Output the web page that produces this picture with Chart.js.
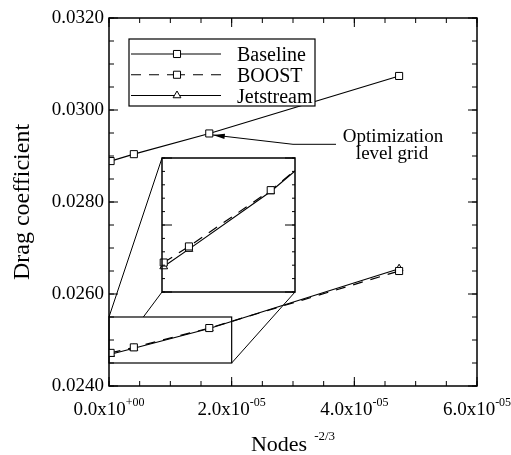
<!DOCTYPE html>
<html>
<head>
<meta charset="utf-8">
<script src="https://cdn.jsdelivr.net/npm/chart.js@4.4.1/dist/chart.umd.min.js"></script>
<style>
  body { margin: 0; background: #fff; }
  #wrap { position: relative; width: 511px; height: 455px; }
  #main { position: absolute; left: 0; top: 0; }
  #inset { position: absolute; }
</style>
</head>
<body>
<div id="wrap">
  <canvas id="main" width="511" height="455"></canvas>
  <canvas id="inset"></canvas>
</div>
<script>
// grid size (Nodes^-2/3) and drag coefficient per grid
const nodes = [2.6e-7, 4.05e-6, 1.635e-5, 4.73e-5];
const baseline = [0.02889, 0.02904, 0.02949, 0.03074];
const boost = [0.02472, 0.02484, 0.02526, 0.02650];
const jetstream = [0.02469, 0.02482, 0.02525, 0.02655];
const seriesNames = ['Baseline', 'BOOST', 'Jetstream'];

const xTicks = [0, 2e-5, 4e-5, 6e-5];
const yTicks = [0.024, 0.026, 0.028, 0.030, 0.032];
const zoomX = [0, 2e-5];
const zoomY = [0.0245, 0.0255];
const noteLines = ['Optimization', 'level grid'];

const SERIF = '"Liberation Serif", "DejaVu Serif", serif';
Chart.defaults.font.family = SERIF;
Chart.defaults.color = '#000';

// inset frame in page pixels
const INSET = { left: 162, top: 158, right: 295, bottom: 292 };
const PAD = 8;

function series(i, values, extra) {
    return Object.assign({
        label: seriesNames[i],
        data: nodes.map((x, k) => ({ x: x, y: values[k] })),
        showLine: true,
        tension: 0,
        borderColor: '#000',
        borderWidth: 1.2,
        pointBackgroundColor: '#fff',
        pointBorderColor: '#000',
        pointBorderWidth: 1,
        pointStyle: 'rect',
        pointRadius: 5
    }, extra);
}

function boostSeries() {
    return series(1, boost, { borderDash: [10, 8] });
}
function jetSeries() {
    return series(2, jetstream, { pointStyle: 'triangle', pointRadius: 4.5 });
}

function line(ctx, x1, y1, x2, y2) {
    ctx.beginPath();
    ctx.moveTo(x1, y1);
    ctx.lineTo(x2, y2);
    ctx.stroke();
}

function stepValues(min, max, step) {
    const out = [];
    const n = Math.round((max - min) / step);
    for (let i = 0; i <= n; i++) out.push(min + i * step);
    return out;
}

// inward tick marks on all four sides
function sideTicksX(ctx, scale, area, values, len) {
    values.forEach(v => {
        const px = scale.getPixelForValue(v);
        line(ctx, px, area.bottom, px, area.bottom - len);
        line(ctx, px, area.top, px, area.top + len);
    });
}
function sideTicksY(ctx, scale, area, values, len) {
    values.forEach(v => {
        const py = scale.getPixelForValue(v);
        line(ctx, area.left, py, area.left + len, py);
        line(ctx, area.right, py, area.right - len, py);
    });
}

function sciParts(v) {
    const exp = v === 0 ? 0 : Math.floor(Math.log10(Math.abs(v)));
    const mant = (v / Math.pow(10, exp)).toFixed(1);
    const e = (exp < 0 ? '-' : '+') + String(Math.abs(exp)).padStart(2, '0');
    return [mant + 'x10', e];
}

const mainDecor = {
    id: 'mainDecor',
    beforeDatasetsDraw(chart) {
        const { ctx, scales: { x, y } } = chart;
        const l = x.getPixelForValue(zoomX[0]), r = x.getPixelForValue(zoomX[1]);
        const t = y.getPixelForValue(zoomY[1]), b = y.getPixelForValue(zoomY[0]);
        ctx.save();
        ctx.strokeStyle = '#000';
        ctx.lineWidth = 1;
        line(ctx, l, t, INSET.left, INSET.top);
        line(ctx, l, b, INSET.left, INSET.bottom);
        line(ctx, r, b, INSET.right, INSET.bottom);
        ctx.fillStyle = '#fff';
        ctx.fillRect(l, t, r - l, b - t);
        ctx.lineWidth = 1.2;
        ctx.strokeRect(l, t, r - l, b - t);
        ctx.restore();
    },
    afterDraw(chart) {
        const { ctx, chartArea: a, scales: { x, y } } = chart;
        ctx.save();
        ctx.strokeStyle = '#000';
        ctx.fillStyle = '#000';

        // frame and ticks
        ctx.lineWidth = 1.5;
        ctx.strokeRect(a.left, a.top, a.right - a.left, a.bottom - a.top);
        ctx.lineWidth = 1;
        sideTicksX(ctx, x, a, stepValues(x.min, x.max, 0.5e-5), 5);
        sideTicksX(ctx, x, a, xTicks, 9);
        sideTicksY(ctx, y, a, stepValues(y.min, y.max, 0.0005), 5);
        sideTicksY(ctx, y, a, yTicks, 9);

        // x tick labels with superscript exponent
        ctx.textBaseline = 'alphabetic';
        ctx.textAlign = 'left';
        xTicks.forEach(v => {
            const [base, exp] = sciParts(v);
            ctx.font = '19px ' + SERIF;
            const wb = ctx.measureText(base).width;
            ctx.font = '12px ' + SERIF;
            const we = ctx.measureText(exp).width;
            const x0 = x.getPixelForValue(v) - (wb + we) / 2;
            ctx.font = '19px ' + SERIF;
            ctx.fillText(base, x0, a.bottom + 29);
            ctx.font = '12px ' + SERIF;
            ctx.fillText(exp, x0 + wb, a.bottom + 20);
        });

        // x axis title
        ctx.font = '22px ' + SERIF;
        const wN = ctx.measureText('Nodes').width;
        ctx.font = '13px ' + SERIF;
        const wS = ctx.measureText('-2/3').width;
        const gap = 7;
        const tx = (a.left + a.right) / 2 - (wN + gap + wS) / 2;
        ctx.font = '22px ' + SERIF;
        ctx.fillText('Nodes', tx, 451);
        ctx.font = '13px ' + SERIF;
        ctx.fillText('-2/3', tx + wN + gap, 440);

        // legend box
        const lx = a.left + 20, ly = a.top + 21, lw = 186, lh = 67;
        ctx.fillStyle = '#fff';
        ctx.fillRect(lx, ly, lw, lh);
        ctx.lineWidth = 1.2;
        ctx.strokeRect(lx, ly, lw, lh);
        chart.data.datasets.forEach((ds, i) => {
            const ry = ly + 15 + i * 20.75;
            const x1 = lx + 2, x2 = lx + 92, mx = lx + 48;
            ctx.lineWidth = ds.borderWidth;
            ctx.setLineDash(ds.borderDash || []);
            line(ctx, x1, ry, mx, ry);
            line(ctx, x2, ry, mx, ry);
            ctx.setLineDash([]);
            ctx.fillStyle = '#fff';
            ctx.lineWidth = ds.pointBorderWidth;
            Chart.helpers.drawPoint(ctx, {
                pointStyle: ds.pointStyle, radius: ds.pointRadius,
                borderWidth: ds.pointBorderWidth, rotation: 0
            }, mx, ry);
            ctx.fillStyle = '#000';
            ctx.font = '20px ' + SERIF;
            ctx.fillText(ds.label, lx + 108, ry + 7);
        });

        // note with arrow to the optimization grid point
        const tipX = x.getPixelForValue(nodes[2]) + 3.5;
        const tipY = y.getPixelForValue(baseline[2]) + 1.5;
        const kneeX = 293, kneeY = 144.3, tailX = 336;
        ctx.lineWidth = 1;
        ctx.beginPath();
        ctx.moveTo(tailX, kneeY);
        ctx.lineTo(kneeX, kneeY);
        ctx.lineTo(tipX, tipY);
        ctx.stroke();
        const ang = Math.atan2(tipY - kneeY, tipX - kneeX);
        const hl = 12, hw = 2.6;
        ctx.beginPath();
        ctx.moveTo(tipX, tipY);
        ctx.lineTo(tipX - hl * Math.cos(ang) - hw * Math.sin(ang), tipY - hl * Math.sin(ang) + hw * Math.cos(ang));
        ctx.lineTo(tipX - hl * Math.cos(ang) + hw * Math.sin(ang), tipY - hl * Math.sin(ang) - hw * Math.cos(ang));
        ctx.closePath();
        ctx.fill();
        ctx.font = '19px ' + SERIF;
        ctx.textAlign = 'center';
        ctx.fillText(noteLines[0], 393, 141.7);
        ctx.fillText(noteLines[1], 392, 159.3);
        ctx.restore();
    }
};

const hidden = {
    grid: { display: false, drawTicks: false },
    border: { display: false }
};

new Chart(document.getElementById('main'), {
    type: 'scatter',
    data: {
        datasets: [series(0, baseline, {}), boostSeries(), jetSeries()]
    },
    options: {
        responsive: false,
        animation: false,
        events: [],
        layout: { padding: { top: 18, right: 34, left: 0, bottom: 0 } },
        plugins: { legend: { display: false }, tooltip: { enabled: false } },
        scales: {
            x: Object.assign({
                type: 'linear',
                min: 0,
                max: 6e-5,
                ticks: { display: false },
                afterBuildTicks: s => { s.ticks = xTicks.map(v => ({ value: v })); },
                afterFit: s => { s.height = 69; }
            }, hidden),
            y: Object.assign({
                type: 'linear',
                min: 0.024,
                max: 0.032,
                ticks: {
                    font: { size: 19 },
                    padding: 5,
                    callback: v => v.toFixed(4)
                },
                afterBuildTicks: s => { s.ticks = yTicks.map(v => ({ value: v })); },
                afterFit: s => { s.width = 109; },
                title: {
                    display: true,
                    text: 'Drag coefficient',
                    font: { size: 24 },
                    padding: { top: 8, bottom: 0 }
                }
            }, hidden)
        }
    },
    plugins: [mainDecor]
});

// magnified view of the fine grids
const insetDecor = {
    id: 'insetDecor',
    beforeDraw(chart) {
        const { ctx, chartArea: a } = chart;
        ctx.save();
        ctx.fillStyle = '#fff';
        ctx.fillRect(a.left, a.top, a.right - a.left, a.bottom - a.top);
        ctx.restore();
    },
    afterDraw(chart) {
        const { ctx, chartArea: a, scales: { y } } = chart;
        ctx.save();
        ctx.strokeStyle = '#000';
        ctx.lineWidth = 1;
        sideTicksY(ctx, y, a, stepValues(y.min, y.max, 0.0001), 3);
        sideTicksY(ctx, y, a, stepValues(y.min, y.max, 0.0005), 10);
        ctx.lineWidth = 1.5;
        ctx.strokeRect(a.left, a.top, a.right - a.left, a.bottom - a.top);
        ctx.restore();
    }
};

const insetCanvas = document.getElementById('inset');
insetCanvas.width = INSET.right - INSET.left + 2 * PAD;
insetCanvas.height = INSET.bottom - INSET.top + 2 * PAD;
insetCanvas.style.left = (INSET.left - PAD) + 'px';
insetCanvas.style.top = (INSET.top - PAD) + 'px';

const insetClip = { left: 6, right: 0, top: 0, bottom: 0 };
new Chart(insetCanvas, {
    type: 'scatter',
    data: {
        datasets: [
            Object.assign(boostSeries(), { clip: insetClip }),
            Object.assign(jetSeries(), { clip: insetClip })
        ]
    },
    options: {
        responsive: false,
        animation: false,
        events: [],
        layout: { padding: PAD },
        plugins: { legend: { display: false }, tooltip: { enabled: false } },
        scales: {
            x: { type: 'linear', display: false, min: zoomX[0], max: zoomX[1] },
            y: { type: 'linear', display: false, min: zoomY[0], max: zoomY[1] }
        }
    },
    plugins: [insetDecor]
});
</script>
</body>
</html>
